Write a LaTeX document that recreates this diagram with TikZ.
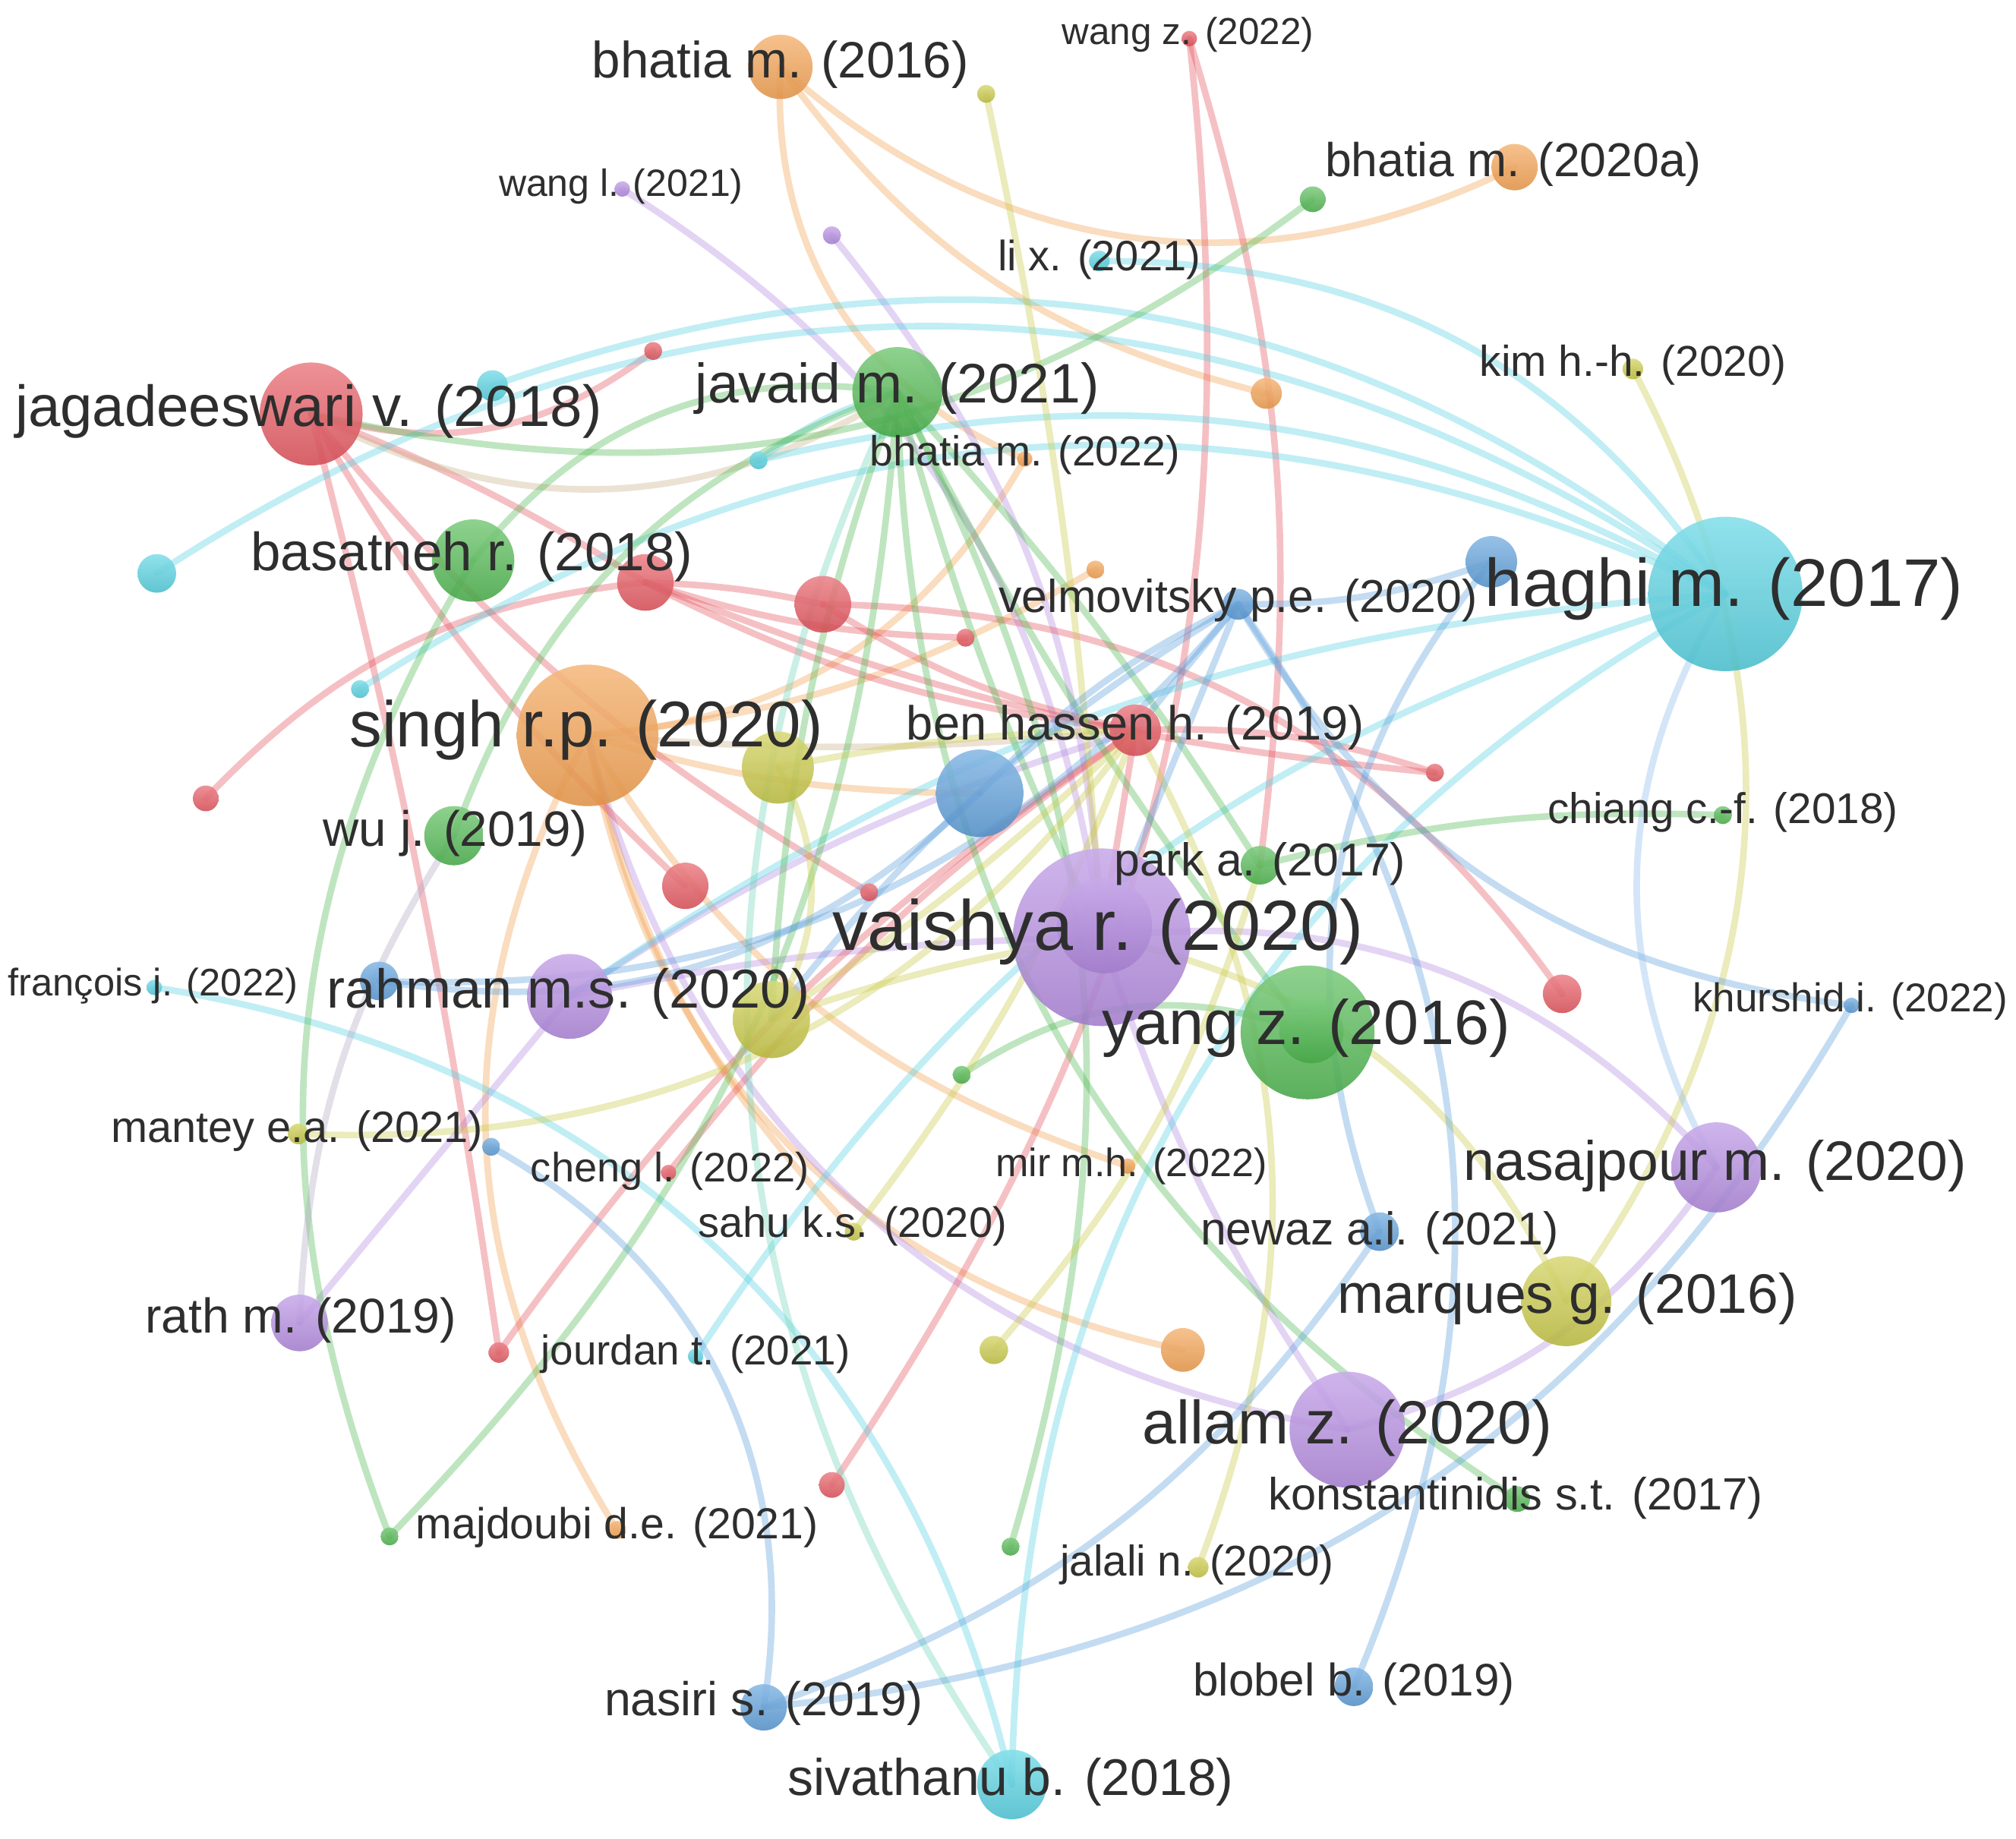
\documentclass[tikz,border=0pt]{standalone}
\usepackage{fontspec}
\setmainfont{Liberation Sans}
\usetikzlibrary{backgrounds}
\definecolor{cred}{HTML}{E4535C}
\definecolor{corange}{HTML}{F29E4C}
\definecolor{cgreen}{HTML}{4DB84E}
\definecolor{ccyan}{HTML}{52D2E2}
\definecolor{cblue}{HTML}{5A9EDB}
\definecolor{cyel}{HTML}{CACA45}
\definecolor{cpur}{HTML}{B48AE2}
\definecolor{ctan}{HTML}{C9B08A}
\definecolor{clav}{HTML}{B0A8C4}
\definecolor{clblue}{HTML}{8DB8EE}
\definecolor{cturq}{HTML}{6ED3B8}
\definecolor{ctxt}{HTML}{2E2E2E}
\newcommand\lfs[1]{\fontsize{#1}{#1}\selectfont}
\begin{document}
\begin{tikzpicture}[x=0.01cm,y=-0.01cm,
  bub/.style={circle,inner sep=0pt,draw=none,fill opacity=0.88,minimum size=#1*0.02cm},
  nR/.style={bub=#1,top color=cred!72!white,bottom color=cred!92!black},
  nO/.style={bub=#1,top color=corange!72!white,bottom color=corange!92!black},
  nG/.style={bub=#1,top color=cgreen!72!white,bottom color=cgreen!90!black},
  nC/.style={bub=#1,top color=ccyan!72!white,bottom color=ccyan!90!black},
  nB/.style={bub=#1,top color=cblue!72!white,bottom color=cblue!90!black},
  nY/.style={bub=#1,top color=cyel!72!white,bottom color=cyel!90!black},
  nP/.style={bub=#1,top color=cpur!72!white,bottom color=cpur!90!black},
  ed/.style={draw=#1,line width=1.45pt,draw opacity=0.36,line cap=round},
  lab/.style={text=ctxt,inner sep=0pt,anchor=center}]
\useasboundingbox (0,0) rectangle (1568,1430);
% ---------- nodes ----------
% orange
\node[nO=25] (bh16) at (607,52) {};
\node[nO=18] (bh20) at (1178,130) {};
\node[nO=55] (singh) at (457,572) {};
\node[nO=6] (bh22) at (797,357) {};
\node[nO=12] (o5) at (985,306) {};
\node[nO=7] (o6) at (852,443) {};
\node[nO=6] (mir) at (877,907) {};
\node[nO=17] (o8) at (920,1050) {};
\node[nO=7] (majd) at (480,1190) {};
% red
\node[nR=40] (jaga) at (242,322) {};
\node[nR=7] (r2) at (508,273) {};
\node[nR=22] (r3) at (502,453) {};
\node[nR=22] (r4) at (640,470) {};
\node[nR=7] (r5) at (751,496) {};
\node[nR=20] (benh) at (883,568) {};
\node[nR=10] (r7) at (160,621) {};
\node[nR=18] (r8) at (533,689) {};
\node[nR=7] (r9) at (676,694) {};
\node[nR=7] (r10) at (1116,601) {};
\node[nR=15] (r11) at (1215,773) {};
\node[nR=6] (wangz) at (925,30) {};
\node[nR=6] (cheng) at (520,912) {};
\node[nR=8] (r14) at (388,1052) {};
\node[nR=10] (r15) at (647,1155) {};
% cyan
\node[nC=60] (haghi) at (1342,462) {};
\node[nC=12] (c2) at (383,300) {};
\node[nC=15] (c3) at (122,446) {};
\node[nC=7] (c4) at (590,358) {};
\node[nC=7] (c5) at (280,536) {};
\node[nC=8] (lix) at (855,203) {};
\node[nC=6] (franc) at (120,768) {};
\node[nC=6] (jourd) at (541,1055) {};
\node[nC=27] (siva) at (787,1388) {};
% green
\node[nG=35] (javaid) at (698,305) {};
\node[nG=32] (basat) at (368,436) {};
\node[nG=10] (g3) at (1021,155) {};
\node[nG=23] (wuj) at (353,650) {};
\node[nG=15] (park) at (980,673) {};
\node[nG=52] (yang) at (1017,803) {};
\node[nG=25] (yangin) at (1020,802) {};
\node[nG=7] (chiang) at (1340,634) {};
\node[nG=7] (g8) at (748,836) {};
\node[nG=10] (konst) at (1180,1166) {};
\node[nG=7] (g10) at (303,1195) {};
\node[nG=7] (g11) at (786,1203) {};
% yellow
\node[nY=7] (y1) at (767,73) {};
\node[nY=8] (kim) at (1270,287) {};
\node[nY=28] (y3) at (605,597) {};
\node[nY=30] (y4) at (600,793) {};
\node[nY=8] (mantey) at (232,882) {};
\node[nY=7] (sahu) at (664,958) {};
\node[nY=35] (marq) at (1218,1012) {};
\node[nY=11] (y8) at (773,1050) {};
\node[nY=8] (jalali) at (932,1219) {};
% blue
\node[nB=20] (b1) at (1160,437) {};
\node[nB=12] (velm) at (963,470) {};
\node[nB=34] (b3) at (762,617) {};
\node[nB=15] (b4) at (295,763) {};
\node[nB=6] (khur) at (1440,782) {};
\node[nB=7] (b6) at (382,892) {};
\node[nB=15] (newaz) at (1073,958) {};
\node[nB=18] (nasiri) at (594,1328) {};
\node[nB=15] (blobel) at (1053,1312) {};
% purple
\node[nP=69] (vaish) at (857,729) {};
\node[nP=37] (vaishin) at (859,720) {};
\node[nP=6] (wangl) at (484,147) {};
\node[nP=7] (p3) at (647,183) {};
\node[nP=33] (rahman) at (443,775) {};
\node[nP=35] (nasaj) at (1335,908) {};
\node[nP=22] (rath) at (233,1029) {};
\node[nP=45] (allam) at (1048,1112) {};
% ---------- edges ----------
\begin{pgfonlayer}{background}
\fill[white] (0,0) rectangle (1568,1430);
% orange
\draw[ed=corange] (bh16.center) to[bend right=34] (bh20.center);
\draw[ed=corange] (bh16.center) to[bend right=20] (o5.center);
\draw[ed=corange] (bh16.center) to[bend right=35] (bh22.center);
\draw[ed=corange] (bh22.center) to[bend left=28] (singh.center);
\draw[ed=corange] (o6.center) to[bend left=12] (singh.center);
\draw[ed=corange] (singh.center) to[bend right=34] (o8.center);
\draw[ed=corange] (singh.center) to[bend right=20] (mir.center);
\draw[ed=corange] (singh.center) to[bend right=30] (majd.center);
\draw[ed=ctan] (singh.center) to[bend right=5] (benh.center);
\draw[ed=corange] (singh.center) to[bend right=8] (b3.center);
\draw[ed=corange] (singh.center) to[bend right=15] (sahu.center);
% purple
\draw[ed=cpur] (allam.center) to[bend left=33] (singh.center);
\draw[ed=cpur] (wangl.center) to[bend left=25] (vaish.center);
\draw[ed=cpur] (p3.center) to[bend left=18] (vaish.center);
\draw[ed=cpur] (vaish.center) to[bend left=27] (nasaj.center);
\draw[ed=cpur] (vaish.center) to[bend right=8] (allam.center);
\draw[ed=cpur] (rahman.center) to (rath.center);
\draw[ed=cpur] (rahman.center) to[bend left=5] (vaish.center);
\draw[ed=cpur] (nasaj.center) to[bend left=20] (allam.center);
\draw[ed=cpur] (rahman.center) to[bend left=8] (benh.center);
% red
\draw[ed=cred] (jaga.center) to[bend right=27] (r2.center);
\draw[ed=cred] (jaga.center) to[bend left=5] (r3.center);
\draw[ed=cred] (jaga.center) to[bend right=8] (r8.center);
\draw[ed=cred] (jaga.center) to[bend right=10] (r9.center);
\draw[ed=cred] (jaga.center) to[bend left=3] (r14.center);
\draw[ed=ctan] (jaga.center) to[bend right=30] (javaid.center);
\draw[ed=cred] (r7.center) to[bend left=20] (r3.center);
\draw[ed=cred] (r3.center) to[bend left=5] (r4.center);
\draw[ed=cred] (r3.center) to[bend right=10] (benh.center);
\draw[ed=cred] (r3.center) to[bend right=8] (r10.center);
\draw[ed=cred] (r3.center) to[bend right=8] (r5.center);
\draw[ed=cred] (r4.center) to[bend right=10] (benh.center);
\draw[ed=cred] (r4.center) to[bend left=27] (r11.center);
\draw[ed=cred] (wangz.center) to[bend left=20] (r15.center);
\draw[ed=cred] (wangz.center) to[bend left=12] (park.center);
\draw[ed=cred] (cheng.center) to[bend left=8] (benh.center);
\draw[ed=cred] (r14.center) to[bend left=10] (benh.center);
\draw[ed=cred] (benh.center) to[bend left=10] (r10.center);
\draw[ed=cred] (benh.center) to (vaish.center);
% cyan
\draw[ed=ccyan] (c2.center) to[bend left=29] (haghi.center);
\draw[ed=ccyan] (c3.center) to[bend left=34] (haghi.center);
\draw[ed=ccyan] (c4.center) to[bend left=21] (haghi.center);
\draw[ed=ccyan] (c5.center) to[bend left=29] (haghi.center);
\draw[ed=ccyan] (lix.center) to[bend left=28] (haghi.center);
\draw[ed=ccyan] (franc.center) to[bend left=34] (siva.center);
\draw[ed=ccyan] (jourd.center) to[bend left=20] (haghi.center);
\draw[ed=ccyan] (haghi.center) to[bend right=30] (siva.center);
\draw[ed=ccyan] (haghi.center) to[bend right=15] (rahman.center);
\draw[ed=ccyan] (c4.center) to[bend left=10] (javaid.center);
% green
\draw[ed=cturq] (javaid.center) to[bend right=30] (siva.center);
\draw[ed=cgreen] (g3.center) to[bend left=25] (jaga.center);
\draw[ed=cgreen] (basat.center) to[bend left=30] (javaid.center);
\draw[ed=cgreen] (javaid.center) to[bend right=25] (wuj.center);
\draw[ed=cgreen] (basat.center) to[bend right=26] (g10.center);
\draw[ed=cgreen] (g10.center) to[bend right=20] (javaid.center);
\draw[ed=cgreen] (javaid.center) to[bend left=5] (park.center);
\draw[ed=cgreen] (javaid.center) to[bend right=5] (yang.center);
\draw[ed=cgreen] (javaid.center) to[bend right=5] (vaish.center);
\draw[ed=cgreen] (javaid.center) to[bend right=8] (y4.center);
\draw[ed=cgreen] (javaid.center) to[bend right=28] (konst.center);
\draw[ed=cgreen] (javaid.center) to[bend left=22] (g11.center);
\draw[ed=cgreen] (g8.center) to[bend left=27] (yang.center);
\draw[ed=cgreen] (chiang.center) to[bend right=8] (park.center);
\draw[ed=clav] (wuj.center) to[bend right=15] (rath.center);
% yellow
\draw[ed=cyel] (kim.center) to[bend left=32] (marq.center);
\draw[ed=cyel] (y1.center) to[bend left=4] (vaish.center);
\draw[ed=cyel] (y3.center) to[bend left=30] (y4.center);
\draw[ed=cyel] (y3.center) to[bend left=5] (benh.center);
\draw[ed=cyel] (y4.center) to[bend right=5] (benh.center);
\draw[ed=cyel] (y4.center) to[bend left=5] (vaish.center);
\draw[ed=cyel] (mantey.center) to[bend right=28] (benh.center);
\draw[ed=cyel] (sahu.center) to[bend right=8] (benh.center);
\draw[ed=cyel] (y8.center) to[bend right=12] (park.center);
\draw[ed=cyel] (jalali.center) to[bend right=25] (benh.center);
\draw[ed=cyel] (vaish.center) to[bend left=26] (marq.center);
% blue
\draw[ed=cblue] (velm.center) to[bend right=26] (khur.center);
\draw[ed=cblue] (b1.center) to[bend right=30] (newaz.center);
\draw[ed=cblue] (velm.center) to[bend left=29] (blobel.center);
\draw[ed=cblue] (khur.center) to[bend left=27] (nasiri.center);
\draw[ed=cblue] (newaz.center) to[bend left=18] (nasiri.center);
\draw[ed=cblue] (b6.center) to[bend left=35] (nasiri.center);
\draw[ed=cblue] (b4.center) to[bend right=26] (velm.center);
\draw[ed=cblue] (b3.center) to[bend left=10] (velm.center);
\draw[ed=cblue] (b3.center) to[bend left=26] (b4.center);
\draw[ed=cblue] (b1.center) to[bend left=10] (velm.center);
\draw[ed=cblue] (velm.center) to[bend right=10] (y4.center);
\draw[ed=cblue] (velm.center) to (benh.center);
\draw[ed=cblue] (velm.center) to (vaish.center);
\draw[ed=clblue] (haghi.center) to[bend right=30] (nasaj.center);
\end{pgfonlayer}
% ---------- labels ----------
\node[lab,font=\lfs{15.7}] (lvaish) at (854,725) {vaishya r. (2020)};
\node[lab,font=\lfs{14.9}] (lhaghi) at (1341,458) {haghi m. (2017)};
\node[lab,font=\lfs{14.3}] (lsingh) at (456,568) {singh r.p. (2020)};
\node[lab,font=\lfs{12.8}] (ljaga) at (240,320) {jagadeeswari v. (2018)};
\node[lab,font=\lfs{13.9}] (lyang) at (1016,800) {yang z. (2016)};
\node[lab,font=\lfs{13.5}] (lallam) at (1048,1111) {allam z. (2020)};
\node[lab,font=\lfs{12.3}] (ljavaid) at (698,302) {javaid m. (2021)};
\node[lab,font=\lfs{12.3}] (lnasaj) at (1334,907) {nasajpour m. (2020)};
\node[lab,font=\lfs{12.3}] (lmarq) at (1219,1010) {marques g. (2016)};
\node[lab,font=\lfs{11.9}] (lbasat) at (367,433) {basatneh r. (2018)};
\node[lab,font=\lfs{12.1}] (lrahman) at (442,773) {rahman m.s. (2020)};
\node[lab,font=\lfs{11.3}] (lbh16) at (607,50) {bhatia m. (2016)};
\node[lab,font=\lfs{10.5}] (lbh20) at (1177,128) {bhatia m. (2020a)};
\node[lab,font=\lfs{10.6}] (lbenh) at (883,566) {ben hassen h. (2019)};
\node[lab,font=\lfs{11.4}] (lsiva) at (786,1386) {sivathanu b. (2018)};
\node[lab,font=\lfs{11}] (lwuj) at (354,648) {wu j. (2019)};
\node[lab,font=\lfs{10.8}] (lrath) at (234,1027) {rath m. (2019)};
\node[lab,font=\lfs{10.2}] (lvelm) at (963,467) {velmovitsky p.e. (2020)};
\node[lab,font=\lfs{10.2}] (lnewaz) at (1073,959) {newaz a.i. (2021)};
\node[lab,font=\lfs{10.2}] (lpark) at (980,672) {park a. (2017)};
\node[lab,font=\lfs{9.5}] (lchiang) at (1340,632) {chiang c.-f. (2018)};
\node[lab,font=\lfs{9.55}] (lkim) at (1270,284) {kim h.-h. (2020)};
\node[lab,font=\lfs{9.4}] (llix) at (855,202) {li x. (2021)};
\node[lab,font=\lfs{9.3}] (lbh22) at (797,354) {bhatia m. (2022)};
\node[lab,font=\lfs{9.7}] (lmantey) at (231,880) {mantey e.a. (2021)};
\node[lab,font=\lfs{9.1}] (lcheng) at (521,911) {cheng l. (2022)};
\node[lab,font=\lfs{9.4}] (lsahu) at (663,954) {sahu k.s. (2020)};
\node[lab,font=\lfs{8.75}] (lmir) at (880,907) {mir m.h. (2022)};
\node[lab,font=\lfs{8.9}] (lkhur) at (1439,779) {khurshid i. (2022)};
\node[lab,font=\lfs{9.2}] (ljourd) at (541,1053) {jourdan t. (2021)};
\node[lab,font=\lfs{9.6}] (lmajd) at (480,1188) {majdoubi d.e. (2021)};
\node[lab,font=\lfs{9.5}] (ljalali) at (931,1217) {jalali n. (2020)};
\node[lab,font=\lfs{10.5}] (lnasiri) at (594,1325) {nasiri s. (2019)};
\node[lab,font=\lfs{10.1}] (lblobel) at (1053,1310) {blobel b. (2019)};
\node[lab,font=\lfs{10}] (lkonst) at (1179,1165) {konstantinidis s.t. (2017)};
\node[lab,font=\lfs{8.4}] (lwangl) at (483,145) {wang l. (2021)};
\node[lab,font=\lfs{8.3}] (lwangz) at (924,27) {wang z. (2022)};
\node[lab,font=\lfs{8.5}] (lfranc) at (119,767) {françois j. (2022)};
\end{tikzpicture}
\end{document}
